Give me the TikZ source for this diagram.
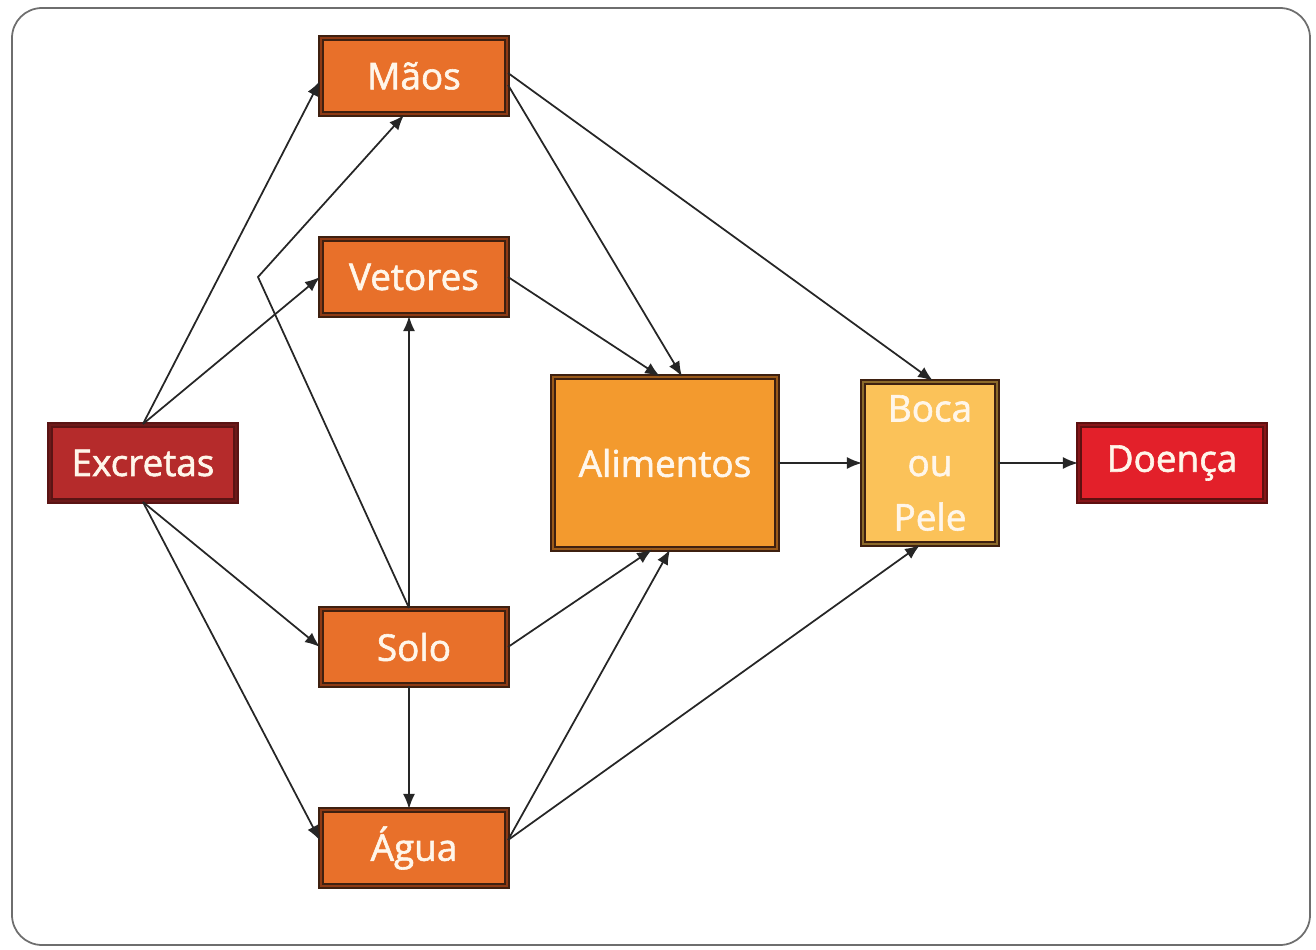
\documentclass[tikz,border=0pt]{standalone}
\usepackage{fontspec}
\setmainfont{Open Sans}
\newfontfamily\boxfont[FakeBold=1.6]{Open Sans}
\usetikzlibrary{calc,arrows.meta}

\definecolor{framegray}{HTML}{6E6E6E}
\definecolor{textcream}{HTML}{FFF6EA}
\definecolor{orangefill}{HTML}{E8702A}
\definecolor{orangering}{HTML}{8E3A14}
\definecolor{orangeline}{HTML}{3E2010}
\definecolor{redfill}{HTML}{B52B2B}
\definecolor{redline}{HTML}{5A1414}
\definecolor{alimfill}{HTML}{F39A2E}
\definecolor{alimring}{HTML}{9A5A1A}
\definecolor{bocafill}{HTML}{FBC259}
\definecolor{bocaring}{HTML}{8C6A2A}
\definecolor{doencafill}{HTML}{E3202A}
\definecolor{doencaline}{HTML}{5E1010}

\tikzset{
	box/.style={rectangle, draw=orangeline, double=orangering, double distance=1.4pt,
		line width=0.9pt, fill=orangefill, text=textcream, inner sep=0pt,
		minimum width=3.73cm, minimum height=1.53cm,
		font=\boxfont\fontsize{21}{24}\selectfont},
	link/.style={-{Latex[length=3mm,width=2.4mm]}, line width=1pt, draw=black!85}
}

\begin{document}
\begin{tikzpicture}

	\useasboundingbox (0,0) rectangle (26.32,18.98);
	\draw [framegray, line width=1pt, rounded corners=0.6cm]
	(0.24,0.08) rectangle (26.2,18.82);

	% sources and paths
	\node [box, fill=redfill, draw=redline, double=redline!80!redfill] (excretas) at (2.86,9.72) {Excretas};
	\node [box] (maos) at (8.28,17.46) {Mãos};
	\node [box] (vetores) at (8.28,13.44) {Vetores};
	\node [box] (solo) at (8.28,6.04) {Solo};
	\node [box] (agua) at (8.28,2.02) {Água};

	\node [box, fill=alimfill, double=alimring, minimum width=4.49cm, minimum height=3.43cm]
	(alimentos) at (13.3,9.72) {Alimentos};
	\node [box, fill=bocafill, double=bocaring, minimum width=2.69cm, minimum height=3.25cm,
	align=center, font=\boxfont\fontsize{21}{31}\selectfont]
	(boca) at (18.6,9.72) {Boca\\ou\\Pele};
	\node [box, fill=doencafill, draw=doencaline, double=doencaline!70!doencafill]
	(doenca) at (23.44,9.72) {Doença};

	\coordinate (bend) at (5.16,13.44);

	% arrows
	\draw [link] (excretas.north) -- ([yshift=-1mm]maos.west);
	\draw [link] (excretas.north) -- (vetores.west);
	\draw [link] (excretas.south) -- (solo.west);
	\draw [link] (excretas.south) -- ([yshift=1.5mm]agua.west);

	\draw [link] ([xshift=-1mm]solo.north) -- ([xshift=-1mm]vetores.south);
	\draw [link] ([xshift=-1mm]solo.north) -- (bend) -- ([xshift=-2mm]maos.south);
	\draw [link] ([xshift=-1mm]solo.south) -- ([xshift=-1mm]agua.north);

	\draw [link] ([yshift=0.06cm]maos.east) -- ([xshift=0.06cm]boca.north);
	\draw [link] ([yshift=-0.18cm]maos.east) -- ([xshift=0.34cm]alimentos.north);
	\draw [link] (vetores.east) -- ([xshift=-0.1cm]alimentos.north);
	\draw [link] (solo.east) -- ([xshift=-0.26cm]alimentos.south);
	\draw [link] ([yshift=0.16cm]agua.east) -- ([xshift=0.1cm]alimentos.south);
	\draw [link] ([yshift=0.16cm]agua.east) -- ([xshift=-0.2cm]boca.south);

	\draw [link] (alimentos.east) -- (boca.west);
	\draw [link] (boca.east) -- (doenca.west);

\end{tikzpicture}
\end{document}
